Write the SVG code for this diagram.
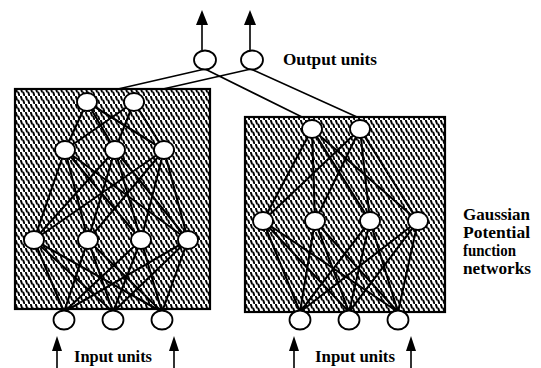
<svg xmlns="http://www.w3.org/2000/svg" width="541" height="368" viewBox="0 0 541 368">
<style>
.box{stroke:#000;stroke-width:2.2;fill:url(#st)}
.n{fill:#fff;stroke:#000;stroke-width:1.8}
.e{stroke:#000;stroke-width:2.1;fill:none}
.o{stroke:#000;stroke-width:1.6;fill:none}
.t{font-family:"Liberation Serif","Times New Roman",serif;font-weight:bold;font-size:16px;fill:#000}
</style>
<defs>
<pattern id="st" width="5" height="8" patternUnits="userSpaceOnUse">
<rect width="5" height="8" fill="#fff"/>
<path d="M0.9 0.6 L1.9 3.6 M3.4 4.6 L4.4 7.6" stroke="#000" stroke-width="1.9" stroke-linecap="round"/>
</pattern>
</defs>
<rect class="box" x="15" y="89" width="195" height="220"/>
<rect class="box" x="245" y="117" width="200" height="195"/>
<g id="connectors">
<path class="o" d="M205 69 L118 89 M251 69 L163 89 M205 69 L302 117 M251 69 L357 117"/>
<path class="o" d="M202 50 V24 M250 50 V24"/>
<path d="M202 10 L196 25 L208 25 Z M250 10 L244 25 L256 25 Z" fill="#000"/>
<path class="o" d="M57 368 V348 M174 368 V348 M294 368 V348 M411 368 V348"/>
<path d="M57 336 L52 351 L62 351 Z M174 336 L169 351 L179 351 Z M294 336 L289 351 L299 351 Z M411 336 L406 351 L416 351 Z" fill="#000"/>
<path class="e" d="M87 102 L65 150 M87 102 L115 150 M87 102 L164 150 M134 102 L65 150 M134 102 L115 150 M134 102 L164 150"/>
<path class="e" d="M65 150 L34 240 M65 150 L88 240 M65 150 L141 240 M65 150 L188 240 M115 150 L34 240 M115 150 L88 240 M115 150 L141 240 M115 150 L188 240 M164 150 L34 240 M164 150 L88 240 M164 150 L141 240 M164 150 L188 240"/>
<path class="e" d="M34 240 L64 312 M34 240 L113 312 M34 240 L162 312 M88 240 L64 312 M88 240 L113 312 M88 240 L162 312 M141 240 L64 312 M141 240 L113 312 M141 240 L162 312 M188 240 L64 312 M188 240 L113 312 M188 240 L162 312"/>
<path class="e" d="M312 129 L263 221 M312 129 L315 221 M312 129 L370 221 M312 129 L418 221 M360 129 L263 221 M360 129 L315 221 M360 129 L370 221 M360 129 L418 221"/>
<path class="e" d="M263 221 L300 312 M263 221 L349 312 M263 221 L398 312 M315 221 L300 312 M315 221 L349 312 M315 221 L398 312 M370 221 L300 312 M370 221 L349 312 M370 221 L398 312 M418 221 L300 312 M418 221 L349 312 M418 221 L398 312"/>
</g>
<g id="out1"><ellipse class="n" cx="205" cy="60" rx="11" ry="9.5"/></g>
<g id="out2"><ellipse class="n" cx="252" cy="60" rx="11" ry="9.5"/></g>
<g id="L1a"><ellipse class="n" cx="87" cy="102" rx="10" ry="9"/></g>
<g id="L1b"><ellipse class="n" cx="134" cy="102" rx="10" ry="9"/></g>
<g id="L2a"><ellipse class="n" cx="65" cy="150" rx="10" ry="9"/></g>
<g id="L2b"><ellipse class="n" cx="115" cy="150" rx="10" ry="9"/></g>
<g id="L2c"><ellipse class="n" cx="164" cy="150" rx="10" ry="9"/></g>
<g id="L3a"><ellipse class="n" cx="34" cy="240" rx="10" ry="9"/></g>
<g id="L3b"><ellipse class="n" cx="88" cy="240" rx="10" ry="9"/></g>
<g id="L3c"><ellipse class="n" cx="141" cy="240" rx="10" ry="9"/></g>
<g id="L3d"><ellipse class="n" cx="188" cy="240" rx="10" ry="9"/></g>
<g id="Lin1"><ellipse class="n" cx="64" cy="320" rx="10.5" ry="9.5"/></g>
<g id="Lin2"><ellipse class="n" cx="113" cy="320" rx="10.5" ry="9.5"/></g>
<g id="Lin3"><ellipse class="n" cx="162" cy="320" rx="10.5" ry="9.5"/></g>
<g id="R1a"><ellipse class="n" cx="312" cy="129" rx="10" ry="9"/></g>
<g id="R1b"><ellipse class="n" cx="360" cy="129" rx="10" ry="9"/></g>
<g id="R2a"><ellipse class="n" cx="263" cy="221" rx="10" ry="9"/></g>
<g id="R2b"><ellipse class="n" cx="315" cy="221" rx="10" ry="9"/></g>
<g id="R2c"><ellipse class="n" cx="370" cy="221" rx="10" ry="9"/></g>
<g id="R2d"><ellipse class="n" cx="418" cy="221" rx="10" ry="9"/></g>
<g id="Rin1"><ellipse class="n" cx="300" cy="320" rx="10.5" ry="9.5"/></g>
<g id="Rin2"><ellipse class="n" cx="349" cy="320" rx="10.5" ry="9.5"/></g>
<g id="Rin3"><ellipse class="n" cx="398" cy="320" rx="10.5" ry="9.5"/></g>
<g id="labels">
<text class="t" x="283" y="65" textLength="94" lengthAdjust="spacingAndGlyphs">Output units</text>
<text class="t" x="74" y="362" textLength="78" lengthAdjust="spacingAndGlyphs">Input units</text>
<text class="t" x="315" y="362" textLength="80" lengthAdjust="spacingAndGlyphs">Input units</text>
<text class="t" x="463" y="220" textLength="67" lengthAdjust="spacingAndGlyphs">Gaussian</text>
<text class="t" x="463" y="238" textLength="67" lengthAdjust="spacingAndGlyphs">Potential</text>
<text class="t" x="463" y="256" textLength="53" lengthAdjust="spacingAndGlyphs">function</text>
<text class="t" x="463" y="274" textLength="68" lengthAdjust="spacingAndGlyphs">networks</text>
</g>
</svg>
